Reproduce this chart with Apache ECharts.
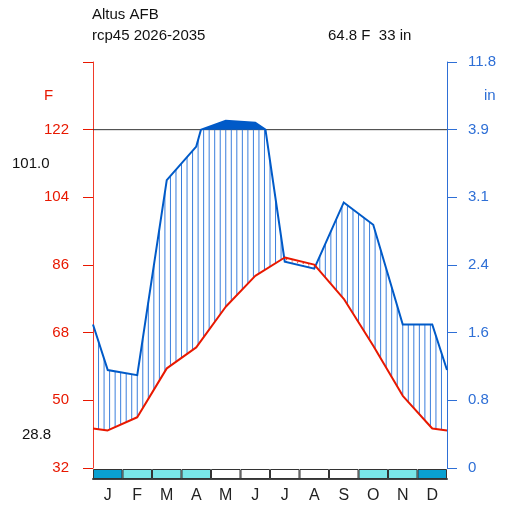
<!DOCTYPE html>
<html lang="en">
<head>
<meta charset="UTF-8"/>
<title>Altus AFB</title>
<script src="https://cdn.jsdelivr.net/npm/echarts@6/dist/echarts.min.js"></script>
<style>html,body{margin:0;padding:0;background:#fff}</style>
</head>
<body>
<div id="main" style="width:507px;height:508px;"></div>
<script type="text/javascript">
// monthly climate values
var months = ['J', 'F', 'M', 'A', 'M', 'J', 'J', 'A', 'S', 'O', 'N', 'D'];
var tempF = [42.0, 45.5, 58.5, 64.1, 74.9, 83.1, 88.0, 86.1, 77.0, 64.5, 51.2, 42.5];
var precipIn = [1.14, 1.08, 3.35, 3.74, 4.98, 4.75, 2.40, 2.32, 3.09, 2.83, 1.67, 1.67];
// 0 = none, 1 = probable frost, 2 = sure frost
var frost = [2, 1, 1, 1, 0, 0, 0, 0, 0, 1, 1, 2];
var tempTicks = ['32', '50', '68', '86', '104', '122', ''];
var precipTicks = ['0', '0.8', '1.6', '2.4', '3.1', '3.9', '11.8'];
var station = 'Altus AFB';
var period = 'rcp45 2026-2035';
var summary = '64.8 F  33 in';
var maxHot = '101.0';
var minCold = '28.8';

var FONT = '"Liberation Sans", Arial, Helvetica, sans-serif';
var tcol = '#e81800', pcol = '#005ac8', axisBlue = '#2e6fd6';
var frostColors = ['#ffffff', '#79e6e8', '#09a0d1'];

// axis units: 10 per 10 C (18 F) / 20 mm, above 100 mm compressed 1:20
function tUnit(f) { return (f - 32) / 1.8; }
function pScale(mm) { return mm <= 100 ? mm / 2 : 50 + (mm - 100) / 20; }

var xPos = [0];
months.forEach(function (m, i) { xPos.push(i + 0.5); });
xPos.push(12);
var tLine = [tempF[11]].concat(tempF, [tempF[0]]).map(tUnit);
var pRaw = [precipIn[11]].concat(precipIn, [precipIn[0]]).map(function (v) { return v * 25.4; });

function interp(x, ys) {
    for (var i = 0; i < xPos.length - 1; i++) {
        if (x <= xPos[i + 1]) {
            var f = (x - xPos[i]) / (xPos[i + 1] - xPos[i]);
            return ys[i] + f * (ys[i + 1] - ys[i]);
        }
    }
    return ys[ys.length - 1];
}

function renderClimate(params, api) {
    var children = [];
    var a = api.coord([0, 50]), b = api.coord([12, 50]);
    children.push({type: 'line', shape: {x1: a[0], y1: a[1], x2: b[0], y2: b[1]},
        style: {stroke: '#333', lineWidth: 1}});

    // hatching
    for (var k = 1; k < 64; k++) {
        var x = k * 12 / 64;
        var t = interp(x, tLine), p = interp(x, pRaw) / 2;
        if (p > t) {
            var p1 = api.coord([x, t]), p2 = api.coord([x, Math.min(p, 50)]);
            children.push({type: 'line', shape: {x1: p1[0], y1: p1[1], x2: p2[0], y2: p2[1]},
                style: {stroke: '#3a7edc', lineWidth: 1}});
        } else {
            var q1 = api.coord([x, p]), q2 = api.coord([x, t]);
            children.push({type: 'line', shape: {x1: q1[0], y1: q1[1], x2: q2[0], y2: q2[1]},
                style: {stroke: tcol, lineWidth: 1, lineDash: [1, 1]}});
        }
    }

    // precipitation path, split where it crosses 100 mm
    var pts = [];
    for (var i = 0; i < xPos.length; i++) {
        pts.push([xPos[i], pRaw[i]]);
        if (i < xPos.length - 1 && (pRaw[i] - 100) * (pRaw[i + 1] - 100) < 0) {
            var f = (100 - pRaw[i]) / (pRaw[i + 1] - pRaw[i]);
            pts.push([xPos[i] + f * (xPos[i + 1] - xPos[i]), 100]);
        }
    }
    var run = [];
    pts.forEach(function (pt) {
        if (pt[1] >= 100) {
            run.push(api.coord([pt[0], pScale(pt[1])]));
        } else if (run.length) {
            children.push({type: 'polygon', shape: {points: run}, style: {fill: pcol}});
            run = [];
        }
    });
    if (run.length > 2) children.push({type: 'polygon', shape: {points: run}, style: {fill: pcol}});

    children.push({type: 'polyline', shape: {points: pts.map(function (pt) {
            return api.coord([pt[0], pScale(pt[1])]);
        })}, style: {stroke: pcol, lineWidth: 2, fill: null}});

    return {type: 'group', children: children};
}

var myChart = echarts.init(document.getElementById('main'));

var option = {
    animation: false,
    backgroundColor: '#fff',
    title: [
        {text: station, left: 92, top: 7, padding: 0, textStyle: {fontSize: 15, fontWeight: 'normal', color: '#111', fontFamily: FONT}},
        {text: period, left: 92, top: 28, padding: 0, textStyle: {fontSize: 15, fontWeight: 'normal', color: '#111', fontFamily: FONT}},
        {text: summary, left: 328, top: 28, padding: 0, textStyle: {fontSize: 15, fontWeight: 'normal', color: '#111', fontFamily: FONT}}
    ],
    graphic: [
        {type: 'text', left: 44, top: 88, style: {text: 'F', fill: tcol, font: '15px ' + FONT}},
        {type: 'text', left: 484, top: 88, style: {text: 'in', fill: axisBlue, font: '15px ' + FONT}},
        {type: 'text', left: 12, top: 156, style: {text: maxHot, fill: '#111', font: '15px ' + FONT}},
        {type: 'text', left: 22, top: 427, style: {text: minCold, fill: '#111', font: '15px ' + FONT}}
    ],
    grid: [
        {left: 93, right: 60, top: 62, bottom: 40},
        {left: 93, right: 60, top: 469, height: 10}
    ],
    xAxis: [
        {type: 'value', gridIndex: 0, min: 0, max: 12, show: false},
        {type: 'category', gridIndex: 1, data: months,
            axisTick: {show: false},
            axisLine: {lineStyle: {color: '#444', width: 2}},
            axisLabel: {color: '#222', fontSize: 16, margin: 9, fontFamily: FONT}}
    ],
    yAxis: [
        {type: 'value', gridIndex: 0, position: 'left', min: 0, max: 60, interval: 10,
            splitLine: {show: false},
            axisLine: {show: true, onZero: false, lineStyle: {color: '#f03a2a', width: 1}},
            axisTick: {show: true, length: 10, lineStyle: {color: tcol}},
            axisLabel: {color: tcol, fontSize: 15, margin: 24, fontFamily: FONT,
                formatter: function (v) { return tempTicks[Math.round(v / 10)]; }}},
        {type: 'value', gridIndex: 0, position: 'right', min: 0, max: 60, interval: 10,
            splitLine: {show: false},
            axisLine: {show: true, onZero: false, lineStyle: {color: axisBlue, width: 1}},
            axisTick: {show: true, length: 10, lineStyle: {color: axisBlue}},
            axisLabel: {color: axisBlue, fontSize: 15, margin: 21, fontFamily: FONT,
                formatter: function (v) { return precipTicks[Math.round(v / 10)]; }}},
        {type: 'value', gridIndex: 1, min: 0, max: 1, show: false}
    ],
    series: [
        {
            type: 'custom', xAxisIndex: 0, yAxisIndex: 0, z: 2, silent: true,
            data: [[0, 0]],
            renderItem: renderClimate
        },
        {
            name: 'temperature', type: 'line', xAxisIndex: 0, yAxisIndex: 0, z: 3,
            symbol: 'none', silent: true,
            lineStyle: {color: tcol, width: 2},
            data: xPos.map(function (x, i) { return [x, tLine[i]]; })
        },
        {
            name: 'frost', type: 'bar', xAxisIndex: 1, yAxisIndex: 2,
            barWidth: '100%', silent: true,
            itemStyle: {borderColor: '#333', borderWidth: 1},
            data: frost.map(function (f) { return {value: 1, itemStyle: {color: frostColors[f]}}; })
        }
    ]
};

myChart.setOption(option);
</script>
</body>
</html>
